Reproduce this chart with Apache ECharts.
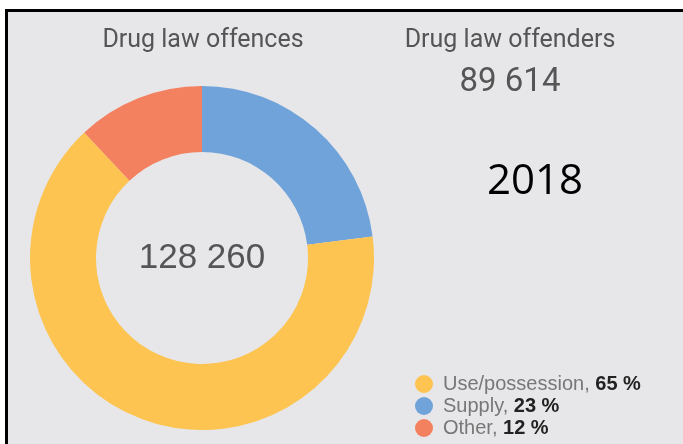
<html>
<head>
<meta charset="UTF-8">
<script src="https://cdn.jsdelivr.net/npm/echarts@6/dist/echarts.min.js"></script>
<style>
  html, body { margin: 0; padding: 0; background: #fff; }
  #main { width: 683px; height: 444px; }
</style>
</head>
<body>
<div id="main"></div>
<script>
// data
var sliceNames = ['Supply', 'Use/possession', 'Other'];   // clockwise from 12 o'clock
var slicePercents = [23, 65, 12];
var sliceColors = ['#6fa3d9', '#fdc452', '#f3805f'];
var legendOrder = ['Use/possession', 'Supply', 'Other'];
var offencesTitle = 'Drug law offences';
var offencesTotal = '128 260';
var offendersTitle = 'Drug law offenders';
var offendersTotal = '89 614';
var yearLabel = '2018';

var pct = {};
sliceNames.forEach(function (n, i) { pct[n] = slicePercents[i]; });

var pieData = sliceNames.map(function (n, i) {
    return { name: n, value: slicePercents[i], itemStyle: { color: sliceColors[i] } };
});

var myChart = echarts.init(document.getElementById('main'));

var option = {
    backgroundColor: '#ffffff',
    animation: false,
    graphic: [
        {
            type: 'rect', z: -10, silent: true,
            shape: { x: 6.5, y: 10.5, width: 720, height: 480 },
            style: { fill: '#e7e7e9', stroke: '#000', lineWidth: 3 }
        },
        {
            type: 'text', x: 203, y: 41,
            style: { text: offencesTitle, fill: '#555', font: '25px Roboto, sans-serif', textAlign: 'center', textVerticalAlign: 'middle' }
        },
        {
            type: 'text', x: 510, y: 41,
            style: { text: offendersTitle, fill: '#555', font: '25px Roboto, sans-serif', textAlign: 'center', textVerticalAlign: 'middle' }
        },
        {
            type: 'text', x: 510, y: 83,
            style: { text: offendersTotal, fill: '#555', font: '33px Roboto, sans-serif', textAlign: 'center', textVerticalAlign: 'middle' }
        },
        {
            type: 'text', x: 535, y: 182,
            style: { text: yearLabel, fill: '#000', font: '42px "Open Sans", sans-serif', textAlign: 'center', textVerticalAlign: 'middle' }
        },
        {
            type: 'text', x: 202, y: 258, z: 10,
            style: { text: offencesTotal, fill: '#555', font: '35px "Liberation Sans", Arial, sans-serif', textAlign: 'center', textVerticalAlign: 'middle' }
        }
    ],
    legend: {
        orient: 'vertical',
        left: 410,
        top: 369,
        height: 100,
        itemWidth: 18,
        itemHeight: 18,
        itemGap: 2,
        icon: 'circle',
        data: legendOrder,
        formatter: function (name) {
            return '{n|' + name + ', }{b|' + pct[name] + ' %}';
        },
        textStyle: {
            padding: [0, 0, 0, 5],
            rich: {
                n: { fontSize: 20, lineHeight: 18, color: '#777', fontFamily: '"Liberation Sans", Arial, sans-serif' },
                b: { fontSize: 20, lineHeight: 18, color: '#222', fontWeight: 'bold', fontFamily: '"Liberation Sans", Arial, sans-serif' }
            }
        }
    },
    series: [
        {
            type: 'pie',
            center: [202, 258],
            radius: [106, 172],
            startAngle: 90,
            clockwise: true,
            avoidLabelOverlap: false,
            label: { show: false },
            labelLine: { show: false },
            emphasis: { disabled: true },
            data: pieData
        }
    ]
};

myChart.setOption(option);
</script>
</body>
</html>
